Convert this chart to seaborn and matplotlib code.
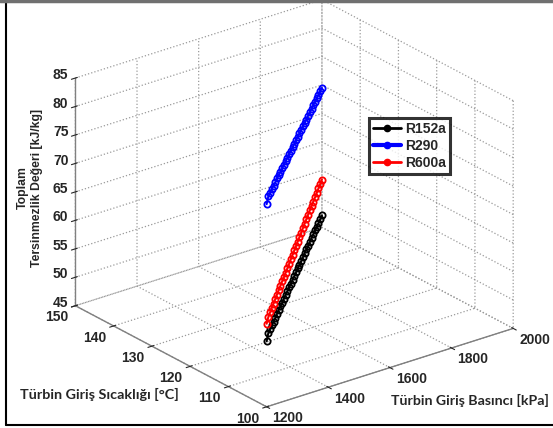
import matplotlib
matplotlib.use("Agg")
import matplotlib.pyplot as plt
import seaborn as sns
from matplotlib.lines import Line2D
from matplotlib.ticker import NullFormatter
from mpl_toolkits.mplot3d import proj3d

sns.set_style("white")
plt.rcParams['font.family'] = ['Liberation Sans', 'DejaVu Sans']
plt.rcParams['font.weight'] = 'bold'
plt.rcParams['grid.color'] = '#9a9a9a'
plt.rcParams['grid.linestyle'] = ':'
plt.rcParams['grid.linewidth'] = 0.9

# ---- data ----
pressure = [1200, 1225, 1250, 1275, 1300, 1325, 1350, 1375, 1400, 1425, 1450,
            1475, 1500, 1525, 1550, 1575, 1600, 1625, 1650, 1675, 1700, 1725,
            1750, 1775, 1800, 1825, 1850, 1875, 1900, 1925, 1950, 1975, 2000]
temperature = [100.0, 101.56, 103.13, 104.69, 106.25, 107.81, 109.38, 110.94,
               112.5, 114.06, 115.63, 117.19, 118.75, 120.31, 121.88, 123.44,
               125.0, 126.56, 128.13, 129.69, 131.25, 132.81, 134.38, 135.94,
               137.5, 139.06, 140.63, 142.19, 143.75, 145.31, 146.88, 148.44, 150.0]
r152a = [56.5, 57.0, 56.7, 56.4, 56.0, 55.7, 55.4, 55.1, 54.8, 54.4, 54.1,
         53.8, 53.5, 53.2, 52.8, 52.5, 52.2, 51.9, 51.6, 51.2, 50.9, 50.6,
         50.3, 50.0, 49.6, 49.3, 49.0, 48.7, 48.4, 48.0, 47.7, 47.4, 47.1]
r290 = [80.6, 81.0, 80.6, 80.3, 79.9, 79.5, 79.2, 78.8, 78.4, 78.0, 77.7,
        77.3, 76.9, 76.6, 76.2, 75.8, 75.4, 75.1, 74.7, 74.3, 74.0, 73.6,
        73.2, 72.8, 72.5, 72.1, 71.7, 71.4, 71.0, 70.6, 70.2, 69.9, 69.5]
r600a = [59.6, 59.8, 59.6, 59.4, 59.2, 59.0, 58.8, 58.6, 58.4, 58.2, 57.9,
         57.7, 57.5, 57.3, 57.1, 56.9, 56.7, 56.5, 56.3, 56.1, 55.9, 55.7,
         55.5, 55.3, 55.1, 54.9, 54.7, 54.4, 54.2, 54.0, 53.8, 53.6, 53.4]
series_names = ["R152a", "R290", "R600a"]
series_colors = ["#000000", "#0000ff", "#ff0000"]
x_ticks = [1200, 1400, 1600, 1800, 2000]
y_ticks = [100, 110, 120, 130, 140, 150]
z_ticks = [45, 50, 55, 60, 65, 70, 75, 80, 85]

W, H = 553, 428
fig = plt.figure(figsize=(W / 100, H / 100), dpi=100)
ax = fig.add_axes([12 / W, 5 / H, 1.0, 1.0], projection='3d')
ax.set_proj_type('ortho')
ax.view_init(elev=24.2, azim=-127.8)
ax.set_box_aspect((1, 1, 0.8), zoom=1.15)

for vals, name, col in zip([r152a, r290, r600a], series_names, series_colors):
    ax.plot(pressure, temperature, vals, color=col, lw=1.5, marker='o',
            ms=4.5, mfc='none', mew=1.3, label=name)

xlo, xhi, ylo, yhi, zlo, zhi = 1200, 2000, 100, 150, 45, 85
ax.set_xlim(xlo, xhi)
ax.set_ylim(ylo, yhi)
ax.set_zlim(zlo, zhi)
ax.set_xticks(x_ticks)
ax.set_yticks(y_ticks)
ax.set_zticks(z_ticks)
for axis in (ax.xaxis, ax.yaxis, ax.zaxis):
    axis.set_major_formatter(NullFormatter())
    axis.set_tick_params(label1On=False)
    axis.set_pane_color((1, 1, 1, 0))
    axis.pane.set_edgecolor((1, 1, 1, 0))
    axis.line.set_color('#808080')
    axis.line.set_linewidth(1.0)

# tick labels: project data-space anchor points through the axes' own projection
fig.canvas.draw()
M = ax.get_proj()


def place(x, y, z, s, **kw):
    px, py, _ = proj3d.proj_transform(x, y, z, M)
    dx, dy = ax.transData.transform((px, py))
    fig.text(dx / W, dy / H, s, fontsize=10, **kw)


for v in x_ticks:
    place(v, ylo - 5.6, zlo, str(v), ha='center', va='center')
for v in y_ticks:
    place(xlo - 62, v, zlo - 1.0, str(v), ha='center', va='center')
for v in z_ticks:
    place(xlo - 14, yhi + 0.7, v + 0.5, str(v), ha='right', va='center')

handles = [Line2D([], [], color=c, lw=3.0 if n == "R290" else 2.0, marker='o', ms=4.5)
           for n, c in zip(series_names, series_colors)]
leg = fig.legend(handles, series_names, loc='upper left',
                 bbox_to_anchor=(369 / W, 1 - 118 / H), borderaxespad=0,
                 fontsize=10, frameon=True, fancybox=False, handlelength=2.0,
                 handletextpad=0.3, borderpad=0.3, labelspacing=0.2)
leg.get_frame().set_edgecolor('black')
leg.get_frame().set_linewidth(2.2)

fig.text(391 / W, 1 - 400 / H, "Türbin Giriş Basıncı [kPa]", fontsize=10.2,
         family='Lato', ha='left', va='center')
fig.text(20 / W, 1 - 394 / H, "Türbin Giriş Sıcaklığı [°C]", fontsize=10.4,
         family='Lato', ha='left', va='center')
fig.text(30 / W, 1 - 188 / H, "Toplam\nTersinmezlik Değeri [kJ/kg]",
         fontsize=8.8, rotation=90, ha='center', va='center', multialignment='center')

# figure frame
fig.add_artist(Line2D([6 / W, 6 / W], [1 - 425 / H, 1 - 1 / H], transform=fig.transFigure,
                      color='black', lw=1.5))
fig.add_artist(Line2D([6 / W, 1.0], [1 - 425 / H, 1 - 425 / H], transform=fig.transFigure,
                      color='black', lw=1.5))
fig.add_artist(Line2D([0, 1.0], [1 - 1 / H, 1 - 1 / H], transform=fig.transFigure,
                      color='#707070', lw=2.5))

fig.savefig("out.png", dpi=100)
